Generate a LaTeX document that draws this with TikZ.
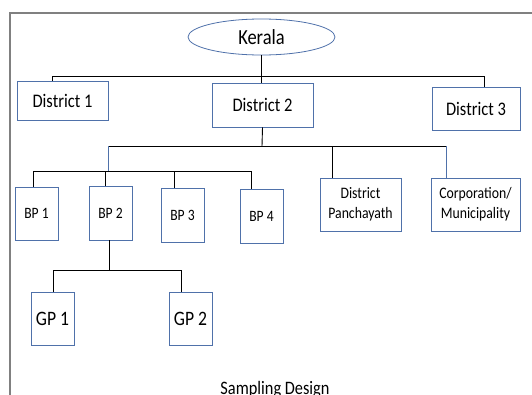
\documentclass[tikz,border=0pt]{standalone}
\usepackage{fontspec}
\setmainfont{Carlito}
\newfontfamily\boxfont[FakeStretch=0.86]{Carlito}
\usetikzlibrary{shapes.geometric}
\definecolor{boxblue}{RGB}{79,113,170}
\definecolor{framegray}{RGB}{128,128,128}
\tikzset{
  unit/.style={draw=boxblue, line width=0.8pt, fill=white, inner sep=0pt,
    align=center, font=\boxfont},
  rootnode/.style={unit, ellipse},
  link/.style={draw=black, line width=0.9pt},
  bluelink/.style={draw=boxblue, line width=0.9pt},
}
\begin{document}
\begin{tikzpicture}[x=1pt, y=-1pt]
\useasboundingbox (0,0) rectangle (532,394);
\clip (0,0) rectangle (532,394);
\fill[white] (0,0) rectangle (532,394);

% outer frame
\draw[framegray, line width=1.5pt] (10,400) -- (10,13) -- (540,13);

% nodes
\node[rootnode, minimum width=147pt, minimum height=36pt, font=\boxfont\fontsize{21.5}{23}\selectfont] (kerala) at (261.5,37) {Kerala};

\node[unit, minimum width=91pt, minimum height=39pt, font=\boxfont\fontsize{19.2}{21}\selectfont] (d1) at (62.5,100.5) {District 1};
\node[unit, minimum width=101pt, minimum height=44pt, font=\boxfont\fontsize{19.2}{21}\selectfont] (d2) at (262.5,105) {District 2};
\node[unit, minimum width=88pt, minimum height=43pt, font=\boxfont\fontsize{19.2}{21}\selectfont] (d3) at (476,108.5) {District 3};

\node[unit, minimum width=43pt, minimum height=53pt, font=\boxfont\fontsize{15.8}{17}\selectfont] (bp1) at (36.5,213.5) {BP 1};
\node[unit, minimum width=43pt, minimum height=54pt, font=\boxfont\fontsize{15.8}{17}\selectfont] (bp2) at (110.5,213) {BP 2};
\node[unit, minimum width=43pt, minimum height=54pt, font=\boxfont\fontsize{15.8}{17}\selectfont] (bp3) at (182.5,215) {BP 3};
\node[unit, minimum width=43pt, minimum height=54pt, font=\boxfont\fontsize{15.8}{17}\selectfont] (bp4) at (261.5,216) {BP 4};

\node[unit, minimum width=81pt, minimum height=53pt, font=\boxfont\fontsize{16}{20}\selectfont] (dp) at (360.5,204.5) {District\\Panchayath};
\node[unit, minimum width=89pt, minimum height=53pt, font=\boxfont\fontsize{16}{20}\selectfont] (corp) at (475.5,204.5) {Corporation/\\Municipality};

\node[unit, minimum width=43pt, minimum height=53pt, font=\boxfont\fontsize{20.5}{22}\selectfont] (gp1) at (52.5,318.5) {GP 1};
\node[unit, minimum width=43pt, minimum height=53pt, font=\boxfont\fontsize{20.5}{22}\selectfont] (gp2) at (190.5,318.5) {GP 2};

\node[font=\boxfont\fontsize{19}{21}\selectfont] (caption) at (275,390) {Sampling Design};

% bus coordinates
\coordinate (s1l) at (52,76);
\coordinate (s1r) at (484,76);
\coordinate (s2l) at (108,146);
\coordinate (s2r) at (446,146);
\coordinate (s2m) at (262,146);
\coordinate (s2p) at (332,146);
\coordinate (s3t) at (108,171);
\coordinate (s3l) at (33,171);
\coordinate (s3r) at (251,171);
\coordinate (s3b) at (105,171);
\coordinate (s3c) at (174,171);
\coordinate (s4m) at (109,270);
\coordinate (s4l) at (53,270);
\coordinate (s4r) at (181,270);

% Kerala to districts
\draw[link] (kerala.south) -- (kerala.south |- d2.north);
\draw[link] (s1l) -- (s1r);
\draw[link] (s1l) -- (s1l |- d1.north);
\draw[link] (s1r) -- (s1r |- d3.north);

% District 2 to its units
\draw[link] (d2.south) -- (s2m);
\draw[link] (s2l) -- (s2r);
\draw[bluelink] (s2l) -- (s3t);
\draw[link] (s2p) -- (s2p |- dp.north);
\draw[bluelink] (s2r) -- (s2r |- corp.north);

% block panchayaths
\draw[link] (s3l) -- (s3r);
\draw[link] (s3l) -- (s3l |- bp1.north);
\draw[link] (s3b) -- (s3b |- bp2.north);
\draw[link] (s3c) -- (s3c |- bp3.north);
\draw[link] (s3r) -- (s3r |- bp4.north);

% grama panchayaths under BP 2
\draw[link] (bp2.south -| s4m) -- (s4m);
\draw[link] (s4l) -- (s4r);
\draw[link] (s4l) -- (s4l |- gp1.north);
\draw[link] (s4r) -- (s4r |- gp2.north);
\end{tikzpicture}
\end{document}
